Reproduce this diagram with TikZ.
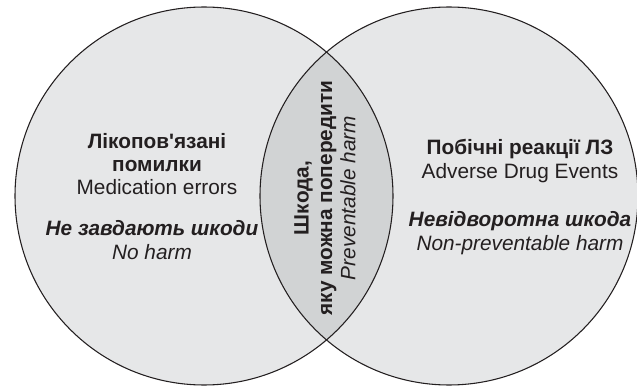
\documentclass[tikz,border=0pt]{standalone}
\usepackage{fontspec}
\setmainfont{Liberation Sans}
% colours of the two sets and their overlap
\definecolor{vennfill}{RGB}{230,231,232}
\definecolor{lensfill}{RGB}{209,211,212}
\definecolor{vennline}{RGB}{35,31,32}
\tikzset{
  vennring/.style={draw=vennline, line width=0.8pt},
  vtext/.style={text=vennline, align=center, font=\fontsize{15.6}{17.5}\selectfont}
}

\begin{document}
\begin{tikzpicture}[x=0.75pt, y=-0.75pt]
  \useasboundingbox (0,0) rectangle (637,389);
  \coordinate (errors) at (204,196);
  \coordinate (adverse) at (449,196);
  \fill[vennfill] (errors) circle (189);
  \fill[vennfill] (adverse) circle (189);
  \begin{scope}
    \clip (errors) circle (189);
    \fill[lensfill] (adverse) circle (189);
  \end{scope}
  \draw[vennring] (errors) circle (189);
  \draw[vennring] (adverse) circle (189);

  \node[vtext] (errorsTitle) at (157,164)
    {\textbf{Лікопов\textquotesingle язані}\\\textbf{помилки}\\Medication errors};
  \node[vtext] (noHarm) at (152,240)
    {\textbf{\textit{Не завдають шкоди}}\\\textit{No harm}};
  \node[vtext] (adeTitle) at (520,161)
    {\textbf{Побічні реакції ЛЗ}\\Adverse Drug Events};
  \node[vtext] (nonPrev) at (520,233)
    {\textbf{\textit{Невідворотна шкода}}\\\textit{Non-preventable harm}};
  \node[vtext, rotate=90] (prevHarm) at (325,198)
    {\textbf{Шкода,}\\\textbf{яку можна попередити}\\\textit{Preventable harm}};
\end{tikzpicture}
\end{document}
